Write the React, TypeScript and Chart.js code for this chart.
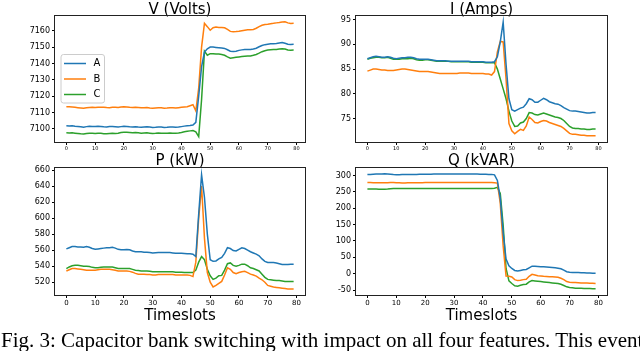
import React, { useEffect, useRef } from 'react';
import { Chart, registerables } from 'chart.js';

Chart.register(...registerables);

// ---------------- data ----------------
const timeslots = [
  0, 1, 2, 3, 4, 5, 6, 7, 8, 9, 10, 11, 12, 13, 14, 15, 16, 17, 18, 19,
  20, 21, 22, 23, 24, 25, 26, 27, 28, 29, 30, 31, 32, 33, 34, 35, 36, 37, 38, 39,
  40, 41, 42, 43, 44, 45, 46, 47, 48, 49, 50, 51, 52, 53, 54, 55, 56, 57, 58, 59,
  60, 61, 62, 63, 64, 65, 66, 67, 68, 69, 70, 71, 72, 73, 74, 75, 76, 77, 78, 79,
];
const xTicks = [0, 10, 20, 30, 40, 50, 60, 70, 80];
const seriesNames = ['A', 'B', 'C'];
const seriesColors = ['#1f77b4', '#ff7f0e', '#2ca02c'];

const voltTicks = [7100, 7110, 7120, 7130, 7140, 7150, 7160];
const ampTicks = [75, 80, 85, 90, 95];
const kwTicks = [520, 540, 560, 580, 600, 620, 640, 660];
const kvarTicks = [-50, 0, 50, 100, 150, 200, 250, 300];

const voltA = [
  7102.0, 7101.8, 7101.9, 7101.6, 7101.5, 7101.3, 7101.0, 7101.4, 7101.6, 7101.5,
  7101.4, 7101.6, 7101.5, 7101.3, 7101.2, 7101.4, 7101.5, 7101.3, 7101.1, 7101.4,
  7101.6, 7101.5, 7101.3, 7101.2, 7101.3, 7101.1, 7101.0, 7101.2, 7101.3, 7101.1,
  7100.9, 7101.0, 7101.2, 7101.1, 7100.9, 7101.0, 7101.2, 7101.1, 7101.0, 7101.1,
  7101.4, 7101.7, 7101.9, 7102.1, 7102.4, 7104.0, 7120.0, 7138.0, 7147.0, 7149.0,
  7150.0, 7150.0, 7149.8, 7149.6, 7149.4, 7149.2, 7148.4, 7147.5, 7147.3, 7147.5,
  7148.0, 7148.3, 7148.5, 7148.6, 7148.5, 7148.8, 7149.3, 7150.2, 7151.0, 7151.5,
  7151.8, 7152.0, 7152.0, 7152.2, 7152.5, 7152.8, 7152.3, 7151.7, 7151.6, 7151.7,
];
const voltB = [
  7113.5, 7113.6, 7113.4, 7113.2, 7113.0, 7112.8, 7112.6, 7112.9, 7113.1, 7113.2,
  7113.1, 7113.3, 7113.2, 7113.3, 7113.1, 7113.0, 7113.2, 7113.3, 7113.1, 7113.4,
  7113.6, 7113.4, 7113.2, 7113.1, 7113.3, 7113.1, 7112.9, 7113.0, 7113.1, 7112.8,
  7112.6, 7112.8, 7113.0, 7112.9, 7112.7, 7112.8, 7113.0, 7112.9, 7112.8, 7113.0,
  7113.2, 7113.4, 7113.6, 7114.2, 7114.8, 7111.0, 7125.0, 7150.0, 7164.5, 7162.5,
  7160.3, 7161.8, 7162.2, 7162.0, 7162.0, 7161.8, 7160.8, 7159.6, 7159.4, 7159.5,
  7159.7, 7160.0, 7160.3, 7160.6, 7160.6, 7160.8, 7161.5, 7162.5, 7163.3, 7163.8,
  7164.0, 7164.3, 7164.5, 7164.8, 7165.0, 7165.3, 7165.5, 7164.8, 7164.4, 7164.5,
];
const voltC = [
  7097.6, 7097.5, 7097.6, 7097.4, 7097.2, 7097.0, 7096.9, 7097.2, 7097.4, 7097.3,
  7097.2, 7097.4, 7097.3, 7097.1, 7097.0, 7097.2, 7097.3, 7097.2, 7097.4, 7097.8,
  7098.0, 7097.9, 7097.8, 7097.7, 7097.8, 7097.6, 7097.4, 7097.5, 7097.6, 7097.4,
  7097.2, 7097.3, 7097.5, 7097.4, 7097.3, 7097.4, 7097.5, 7097.4, 7097.3, 7097.5,
  7097.8, 7098.2, 7098.5, 7098.8, 7099.0, 7098.2, 7095.3, 7118.0, 7147.5, 7145.0,
  7146.0, 7146.0, 7145.8, 7145.8, 7145.5, 7145.0, 7144.0, 7143.2, 7143.5, 7143.8,
  7144.0, 7144.2, 7144.4, 7144.5, 7144.6, 7145.0, 7145.5, 7146.3, 7147.2, 7147.8,
  7148.2, 7148.4, 7148.5, 7148.6, 7148.8, 7149.0, 7148.8, 7148.2, 7148.1, 7148.2,
];

const ampA = [
  87.1, 87.3, 87.5, 87.6, 87.5, 87.4, 87.4, 87.5, 87.4, 87.2,
  87.1, 87.2, 87.3, 87.3, 87.4, 87.4, 87.3, 87.1, 87.0, 87.0,
  87.0, 87.0, 86.9, 86.8, 86.7, 86.7, 86.7, 86.7, 86.6, 86.6,
  86.6, 86.6, 86.6, 86.6, 86.6, 86.6, 86.5, 86.5, 86.5, 86.5,
  86.5, 86.4, 86.4, 86.4, 86.5, 87.5, 90.5, 94.5, 86.0, 79.0,
  76.8, 76.5, 76.8, 77.1, 77.3, 78.0, 79.0, 78.8, 78.3, 78.3,
  78.7, 79.1, 78.8, 78.4, 78.2, 78.0, 77.9, 77.6, 77.2, 76.9,
  76.6, 76.5, 76.5, 76.4, 76.3, 76.2, 76.1, 76.1, 76.2, 76.2,
];
const ampB = [
  84.6, 84.8, 85.0, 85.0, 84.9, 84.8, 84.8, 84.7, 84.7, 84.7,
  84.8, 84.9, 85.0, 85.0, 84.9, 84.8, 84.7, 84.6, 84.5, 84.5,
  84.5, 84.5, 84.4, 84.3, 84.2, 84.1, 84.1, 84.1, 84.1, 84.1,
  84.1, 84.1, 84.2, 84.2, 84.2, 84.2, 84.1, 84.1, 84.1, 84.1,
  84.1, 84.0, 84.0, 83.8, 84.5, 88.5, 90.6, 90.5, 83.0, 74.0,
  72.5, 71.9, 72.4, 72.8, 72.6, 73.5, 75.3, 74.8, 74.2, 74.1,
  74.4, 74.6, 74.5, 74.2, 74.0, 73.8, 73.6, 73.4, 73.0, 72.5,
  72.0, 71.8, 71.8, 71.7, 71.6, 71.6, 71.5, 71.5, 71.5, 71.5,
];
const ampC = [
  87.0, 87.2, 87.3, 87.4, 87.4, 87.3, 87.3, 87.4, 87.2, 87.0,
  87.0, 87.0, 87.1, 87.1, 87.1, 87.2, 87.1, 86.9, 86.8, 86.8,
  86.9, 86.9, 86.8, 86.7, 86.6, 86.6, 86.6, 86.6, 86.6, 86.5,
  86.5, 86.5, 86.5, 86.5, 86.5, 86.5, 86.4, 86.4, 86.4, 86.4,
  86.4, 86.3, 86.3, 86.3, 86.3, 85.0, 83.0, 81.0, 79.0, 76.5,
  74.5, 73.4, 73.5, 74.1, 74.3, 75.0, 76.2, 76.1, 75.8, 75.7,
  75.9, 76.1, 75.9, 75.7, 75.5, 75.3, 75.2, 75.0, 74.6, 74.0,
  73.4, 73.1, 73.0, 73.0, 72.9, 72.9, 72.8, 72.8, 72.9, 72.9,
];

const kwA = [
  561.5, 563.0, 564.5, 564.5, 564.0, 564.0, 563.5, 564.5, 563.5, 562.0,
  561.0, 561.5, 562.0, 562.5, 563.0, 563.0, 563.5, 562.5, 561.0, 560.5,
  560.5, 560.8, 560.5, 559.0, 558.0, 558.0, 558.0, 557.5, 557.5, 557.0,
  556.5, 556.8, 557.0, 557.0, 557.0, 557.0, 557.0, 556.5, 556.0, 556.0,
  556.0, 555.8, 555.5, 555.5, 555.0, 552.0, 605.0, 654.0, 626.0, 580.0,
  548.0, 546.0, 546.5, 549.0, 551.0, 556.0, 563.0, 562.0, 559.5, 559.0,
  561.0, 563.0, 562.0, 560.0, 558.0, 556.5, 555.0, 553.0, 549.0, 546.0,
  544.5, 544.5, 544.5, 544.0, 543.0, 542.0, 542.0, 542.0, 542.5, 542.5,
];
const kwB = [
  534.0, 535.5, 537.0, 537.0, 536.5, 536.0, 535.5, 535.0, 535.0, 535.0,
  535.0, 535.5, 536.0, 536.0, 536.0, 536.0, 535.5, 535.0, 534.0, 534.0,
  534.0, 534.0, 533.5, 532.5, 531.0, 530.0, 530.0, 530.0, 529.5, 529.5,
  529.0, 529.0, 529.5, 529.5, 529.5, 529.5, 529.5, 529.5, 529.0, 529.0,
  529.0, 529.0, 529.0, 528.5, 527.0, 545.0, 600.0, 640.0, 575.0, 532.0,
  520.0, 514.0, 516.0, 518.5, 521.0, 529.0, 538.0, 536.0, 532.0, 530.5,
  532.0, 533.0, 533.5, 532.0, 530.0, 529.0, 527.5, 525.0, 523.0, 520.0,
  516.0, 515.0, 514.0, 513.5, 513.0, 512.5, 512.0, 511.5, 511.5, 511.5,
];
const kwC = [
  537.0, 539.0, 540.5, 541.0, 541.0, 540.5, 540.0, 540.0, 539.5, 538.5,
  538.0, 538.0, 538.5, 539.0, 539.0, 539.0, 539.0, 538.0, 537.0, 537.0,
  537.0, 537.0, 537.0, 536.0, 535.0, 534.5, 534.0, 534.0, 534.0, 533.5,
  533.0, 533.0, 533.0, 533.0, 533.0, 533.0, 533.0, 533.0, 532.5, 532.5,
  532.5, 532.0, 532.0, 532.0, 532.0, 535.0, 545.0, 552.0, 548.0, 536.0,
  528.0, 523.5, 525.0, 528.0, 528.5, 535.0, 543.0, 544.0, 541.0, 540.0,
  541.0, 542.5, 542.5, 540.5, 538.0, 537.0, 535.5, 534.0, 530.0, 526.0,
  523.5, 523.0, 522.5, 522.0, 522.0, 521.5, 521.0, 521.0, 521.0, 521.0,
];

const kvarA = [
  303.0, 303.5, 304.0, 304.5, 305.0, 305.0, 305.5, 305.0, 304.0, 303.0,
  302.5, 302.5, 303.0, 303.0, 303.0, 303.0, 303.0, 303.5, 304.0, 304.0,
  304.0, 304.0, 304.0, 304.5, 304.5, 304.5, 304.5, 304.5, 305.0, 305.0,
  305.0, 305.0, 305.0, 305.0, 305.0, 305.0, 304.5, 304.5, 304.5, 304.0,
  304.0, 304.0, 303.5, 303.5, 302.0, 285.0, 230.0, 125.0, 45.0, 24.0,
  16.0, 10.0, 8.0, 10.0, 12.0, 13.0, 18.0, 23.0, 22.5, 22.0,
  21.5, 21.0, 20.5, 20.0, 19.0, 18.0, 17.0, 15.0, 11.0, 6.0,
  4.5, 4.0, 4.0, 3.5, 3.0, 3.0, 2.5, 2.0, 1.5, 1.5,
];
const kvarB = [
  278.5, 278.5, 278.0, 278.0, 278.0, 278.0, 278.0, 278.0, 278.5, 278.5,
  278.0, 278.0, 277.5, 277.5, 278.0, 278.0, 278.0, 278.0, 278.0, 278.0,
  278.5, 278.5, 278.5, 278.5, 278.5, 278.5, 278.5, 278.5, 278.5, 278.5,
  278.5, 278.5, 278.5, 278.5, 278.5, 278.5, 278.5, 278.5, 278.5, 278.5,
  278.5, 278.5, 278.5, 278.5, 278.0, 277.0, 215.0, 85.0, -7.0, -8.0,
  -10.0, -18.0, -21.0, -20.0, -18.0, -17.0, -8.0, -2.0, -4.0, -6.0,
  -7.0, -8.0, -8.5, -9.0, -9.5, -10.0, -11.0, -14.0, -18.0, -24.0,
  -26.0, -26.5, -27.0, -27.5, -28.0, -28.0, -28.5, -29.0, -29.0, -29.5,
];
const kvarC = [
  259.0, 259.0, 258.5, 258.5, 258.0, 258.0, 258.0, 258.5, 259.5, 260.0,
  260.0, 260.0, 260.0, 260.0, 260.0, 260.0, 260.0, 260.0, 260.0, 260.0,
  260.0, 260.0, 260.5, 260.5, 260.5, 260.5, 260.5, 260.5, 260.5, 260.5,
  260.5, 260.5, 260.5, 260.5, 260.5, 260.0, 260.0, 260.0, 260.0, 260.0,
  260.0, 260.0, 260.5, 260.5, 261.0, 264.0, 245.0, 148.0, 16.0, -22.0,
  -30.0, -37.0, -38.0, -35.0, -33.0, -32.0, -25.0, -21.0, -22.0, -23.0,
  -24.0, -25.0, -26.0, -27.0, -28.0, -29.0, -30.0, -32.0, -36.0, -40.0,
  -42.0, -43.0, -44.0, -44.0, -44.5, -45.0, -45.0, -45.5, -46.0, -46.0,
];

const captionText =
  'Fig. 3: Capacitor bank switching with impact on all four features. This event';

// ---------------- layout ----------------
const FONT = "'DejaVu Sans', sans-serif";

type PanelCfg = {
  title: string;
  series: number[][];
  yMin: number;
  yMax: number;
  yTicks: number[];
  left: number;
  top: number;
  width: number;
  height: number;
  padding: { top: number; left: number; right: number; bottom: number };
  yAxisWidth: number;
  xAxisHeight: number;
  titleGap: number;
  xTickSize: number;
  xTickPad: number;
  xTitle: boolean;
  legend: boolean;
};

const panels: PanelCfg[] = [
  {
    title: 'V (Volts)', series: [voltA, voltB, voltC], yMin: 7092, yMax: 7169, yTicks: voltTicks,
    left: 0, top: 0, width: 320, height: 156,
    padding: { top: 4.75, left: 0, right: 15, bottom: 0 }, yAxisWidth: 55, xAxisHeight: 14,
    titleGap: 0, xTickSize: 5, xTickPad: 1, xTitle: false, legend: true,
  },
  {
    title: 'I (Amps)', series: [ampA, ampB, ampC], yMin: 70.25, yMax: 95.75, yTicks: ampTicks,
    left: 320, top: 0, width: 320, height: 156,
    padding: { top: 4.75, left: 0, right: 33, bottom: 0 }, yAxisWidth: 36, xAxisHeight: 14,
    titleGap: 0, xTickSize: 5, xTickPad: 1, xTitle: false, legend: false,
  },
  {
    title: 'P (kW)', series: [kwA, kwB, kwC], yMin: 504, yMax: 662.5, yTicks: kwTicks,
    left: 0, top: 150, width: 320, height: 180,
    padding: { top: 5.55, left: 0, right: 15, bottom: 0 }, yAxisWidth: 55, xAxisHeight: 35,
    titleGap: 1.2, xTickSize: 7, xTickPad: 1, xTitle: true, legend: false,
  },
  {
    title: 'Q (kVAR)', series: [kvarA, kvarB, kvarC], yMin: -65, yMax: 323, yTicks: kvarTicks,
    left: 320, top: 150, width: 320, height: 180,
    padding: { top: 5.55, left: 0, right: 33, bottom: 0 }, yAxisWidth: 36, xAxisHeight: 35,
    titleGap: 1.2, xTickSize: 7, xTickPad: 1, xTitle: true, legend: false,
  },
];

const framePlugin = {
  id: 'frame',
  afterDraw(chart: any) {
    const { ctx, chartArea } = chart;
    const l = Math.round(chartArea.left) - 0.5;
    const t = Math.round(chartArea.top) - 0.5;
    const r = Math.round(chartArea.right) + 0.5;
    const b = Math.round(chartArea.bottom) + 0.5;
    ctx.save();
    ctx.strokeStyle = '#222';
    ctx.lineWidth = 1;
    ctx.strokeRect(l, t, r - l, b - t);
    ctx.restore();
  },
};

const legendPlugin = {
  id: 'insideLegend',
  afterDraw(chart: any) {
    const { ctx, chartArea } = chart;
    const x0 = chartArea.left + 6;
    const y0 = chartArea.top + 38.5;
    const w = 43.5;
    const h = 48.5;
    ctx.save();
    ctx.beginPath();
    const rr = 2.5;
    ctx.moveTo(x0 + rr, y0);
    ctx.arcTo(x0 + w, y0, x0 + w, y0 + h, rr);
    ctx.arcTo(x0 + w, y0 + h, x0, y0 + h, rr);
    ctx.arcTo(x0, y0 + h, x0, y0, rr);
    ctx.arcTo(x0, y0, x0 + w, y0, rr);
    ctx.closePath();
    ctx.fillStyle = 'rgba(255,255,255,0.8)';
    ctx.fill();
    ctx.strokeStyle = '#cccccc';
    ctx.lineWidth = 1;
    ctx.stroke();
    chart.data.datasets.forEach((ds: any, i: number) => {
      const y = y0 + 9 + i * 15.5;
      ctx.beginPath();
      ctx.strokeStyle = ds.borderColor;
      ctx.lineWidth = 1.5;
      ctx.moveTo(x0 + 3, y);
      ctx.lineTo(x0 + 25, y);
      ctx.stroke();
      ctx.fillStyle = '#000';
      ctx.font = `10px ${FONT}`;
      ctx.textBaseline = 'middle';
      ctx.textAlign = 'left';
      ctx.fillText(ds.label, x0 + 32.5, y);
    });
    ctx.restore();
  },
};

function Panel({ cfg }: { cfg: PanelCfg }) {
  const ref = useRef<HTMLCanvasElement>(null);
  useEffect(() => {
    if (!ref.current) return;
    const chart = new Chart(ref.current, {
      type: 'line',
      data: {
        datasets: cfg.series.map((vals, i) => ({
          label: seriesNames[i],
          data: vals.map((v, j) => ({ x: timeslots[j], y: v })),
          borderColor: seriesColors[i],
          backgroundColor: seriesColors[i],
          borderWidth: 1.5,
          pointRadius: 0,
          tension: 0,
          fill: false,
        })),
      },
      options: {
        responsive: false,
        animation: false,
        devicePixelRatio: 1,
        layout: { padding: cfg.padding },
        plugins: {
          legend: { display: false },
          tooltip: { enabled: false },
          title: {
            display: true,
            text: cfg.title,
            fullSize: false,
            color: '#000',
            font: { family: FONT, size: 15, weight: 'normal', lineHeight: 0.75 },
            padding: { top: 0, bottom: cfg.titleGap },
          },
        },
        scales: {
          x: {
            type: 'linear',
            min: -3.95,
            max: 82.95,
            afterBuildTicks: (s: any) => {
              s.ticks = xTicks.map((v) => ({ value: v }));
            },
            afterFit: (s: any) => {
              s.height = cfg.xAxisHeight;
            },
            ticks: {
              font: { family: FONT, size: cfg.xTickSize },
              color: '#000',
              padding: cfg.xTickPad,
              maxRotation: 0,
              autoSkip: false,
              callback: (v: any) => String(v),
            },
            grid: { display: true, drawOnChartArea: false, drawTicks: true, tickLength: 3, color: '#000' },
            border: { display: false },
            title: {
              display: cfg.xTitle,
              text: 'Timeslots',
              color: '#000',
              font: { family: FONT, size: 15, lineHeight: 1 },
              padding: { top: 0, bottom: 6 },
            },
          },
          y: {
            type: 'linear',
            min: cfg.yMin,
            max: cfg.yMax,
            afterBuildTicks: (s: any) => {
              s.ticks = cfg.yTicks.map((v) => ({ value: v }));
            },
            afterFit: (s: any) => {
              s.width = cfg.yAxisWidth;
            },
            ticks: {
              font: { family: FONT, size: 8 },
              color: '#000',
              padding: 2,
              autoSkip: false,
              callback: (v: any) => String(v),
            },
            grid: { display: true, drawOnChartArea: false, drawTicks: true, tickLength: 3, color: '#000' },
            border: { display: false },
          },
        },
      } as any,
      plugins: cfg.legend ? [framePlugin, legendPlugin] : [framePlugin],
    });
    return () => chart.destroy();
  }, [cfg]);
  return (
    <canvas
      ref={ref}
      width={cfg.width}
      height={cfg.height}
      style={{ position: 'absolute', left: cfg.left, top: cfg.top, width: cfg.width, height: cfg.height }}
    />
  );
}

export default function App() {
  return (
    <div
      style={{
        position: 'absolute',
        left: 0,
        top: 0,
        width: 640,
        height: 351,
        overflow: 'hidden',
        background: '#fff',
      }}
    >
      {panels.map((p) => (
        <Panel key={p.title} cfg={p} />
      ))}
      <div
        style={{
          position: 'absolute',
          left: 1,
          top: 330,
          whiteSpace: 'nowrap',
          fontFamily: "'Liberation Serif', 'Times New Roman', serif",
          fontSize: 21,
          lineHeight: '21px',
          color: '#000',
        }}
      >
        {captionText}
      </div>
    </div>
  );
}
